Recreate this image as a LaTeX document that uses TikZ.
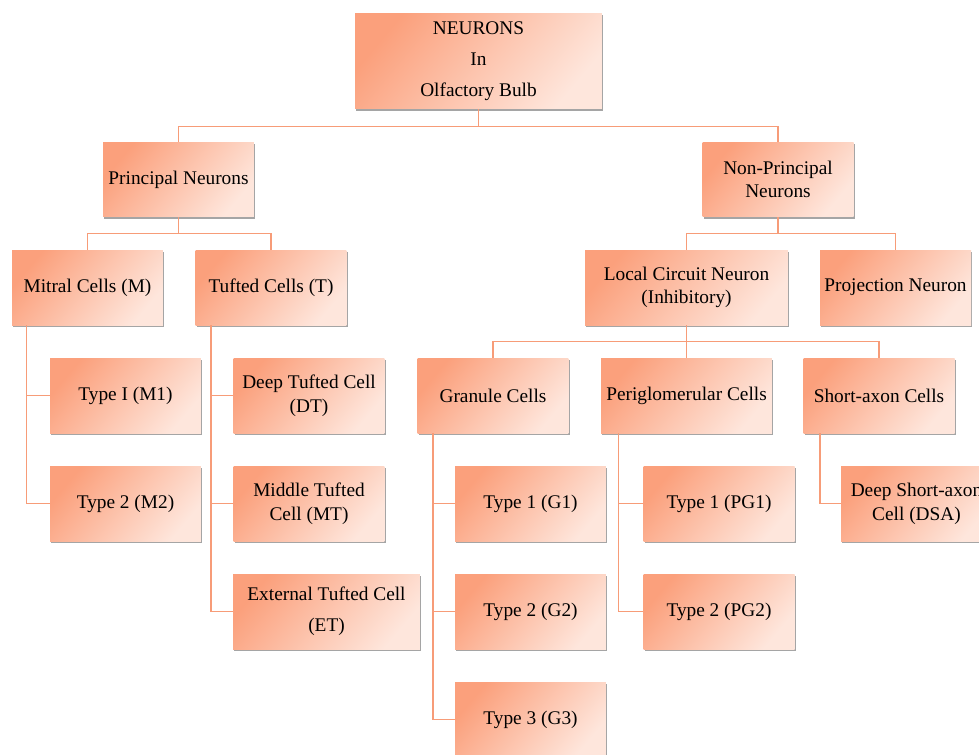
\documentclass[tikz,border=0pt]{standalone}
\usepackage{fontspec}
\setmainfont{Liberation Serif}
\usetikzlibrary{shadows}

\definecolor{salmondark}{HTML}{FBA07C}
\definecolor{salmonlight}{HTML}{FEE6DC}
\definecolor{linkcol}{HTML}{F79C78}

\tikzset{
  cellbox/.style={draw=none, top color=salmondark, bottom color=salmonlight, shading angle=50,
    minimum width=3.02cm, minimum height=1.5cm, align=center, inner sep=1pt,
    font=\fontsize{11}{13.5}\selectfont,
    drop shadow={shadow xshift=0.6pt, shadow yshift=-1.3pt, opacity=0.5, fill=black!70}},
  link/.style={draw=linkcol, line width=0.85pt}
}

\begin{document}
\begin{tikzpicture}[x=0.02cm, y=0.02cm]
    \useasboundingbox (0,0) rectangle (979,-754);
    % top level
    \node[cellbox, minimum width=4.94cm, minimum height=1.92cm, font=\fontsize{11}{17.5}\selectfont] (root) at (478.5,-61) {NEURONS\\In\\Olfactory Bulb};
    \node[cellbox] (pn) at (178.5,-179.5) {Principal Neurons};
    \node[cellbox] (npn) at (778,-179.5) {Non-Principal\\Neurons};
    % second level
    \node[cellbox] (mc) at (87.5,-287.5) {Mitral Cells (M)};
    \node[cellbox] (tc) at (271,-287.5) {Tufted  Cells (T)};
    \node[cellbox, minimum width=4.06cm] (lcn) at (686.5,-287.5) {Local Circuit Neuron\\(Inhibitory)};
    \node[cellbox] (prn) at (895.5,-287.5) {Projection Neuron};
    % mitral and tufted types
    \node[cellbox] (m1) at (125.5,-395.5) {Type I (M1)};
    \node[cellbox] (m2) at (125.5,-503.5) {Type 2 (M2)};
    \node[cellbox] (dt) at (309,-395.5) {Deep Tufted  Cell\\(DT)};
    \node[cellbox] (mt) at (309,-503.5) {Middle Tufted\\Cell  (MT)};
    \node[cellbox, minimum width=3.74cm, font=\fontsize{11}{17.5}\selectfont] (et) at (326.5,-611.5) {External Tufted Cell\\(ET)};
    % local circuit neurons
    \node[cellbox] (gc) at (493,-395.5) {Granule Cells};
    \node[cellbox, minimum width=3.42cm] (pgc) at (686.5,-395.5) {Periglomerular Cells};
    \node[cellbox] (sac) at (879,-395.5) {Short-axon  Cells};
    \node[cellbox] (g1) at (530.5,-503.5) {Type 1 (G1)};
    \node[cellbox] (g2) at (530.5,-611.5) {Type 2 (G2)};
    \node[cellbox] (g3) at (530.5,-719.5) {Type 3 (G3)};
    \node[cellbox] (pg1) at (719,-503.5) {Type 1 (PG1)};
    \node[cellbox] (pg2) at (719,-611.5) {Type 2 (PG2)};
    \node[cellbox] (dsa) at (916.5,-503.5) {Deep Short-axon\\Cell (DSA)};
    % tree connectors
    \draw[link] (root.south) -- ++(0,-17) -| (pn.north);
    \draw[link] (root.south) -- ++(0,-17) -| (npn.north);
    \draw[link] (pn.south) -- ++(0,-16) -| (mc.north);
    \draw[link] (pn.south) -- ++(0,-16) -| (tc.north);
    \draw[link] (npn.south) -- ++(0,-16) -| (lcn.north);
    \draw[link] (npn.south) -- ++(0,-16) -| (prn.north);
    \draw[link] (lcn.south) -- ++(0,-16) -| (gc.north);
    \draw[link] (lcn.south) -- ++(0,-16) -| (pgc.north);
    \draw[link] (lcn.south) -- ++(0,-16) -| (sac.north);
    % side connectors
    \draw[link] ([xshift=0.3cm]mc.south west) |- (m1.west);
    \draw[link] ([xshift=0.3cm]mc.south west) |- (m2.west);
    \draw[link] ([xshift=0.32cm]tc.south west) |- (dt.west);
    \draw[link] ([xshift=0.32cm]tc.south west) |- (mt.west);
    \draw[link] ([xshift=0.32cm]tc.south west) |- (et.west);
    \draw[link] ([xshift=0.32cm]gc.south west) |- (g1.west);
    \draw[link] ([xshift=0.32cm]gc.south west) |- (g2.west);
    \draw[link] ([xshift=0.32cm]gc.south west) |- (g3.west);
    \draw[link] ([xshift=0.36cm]pgc.south west) |- (pg1.west);
    \draw[link] ([xshift=0.36cm]pgc.south west) |- (pg2.west);
    \draw[link] ([xshift=0.34cm]sac.south west) |- (dsa.west);
\end{tikzpicture}
\end{document}
